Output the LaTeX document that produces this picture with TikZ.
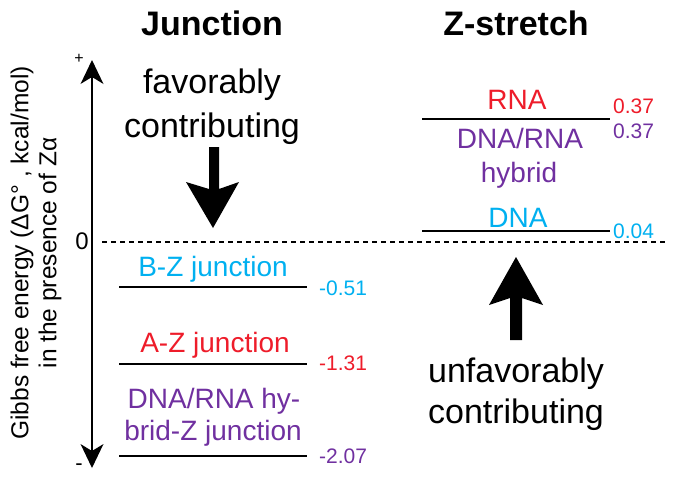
\documentclass[tikz,border=0pt]{standalone}
\usepackage{fontspec}
\setmainfont{Liberation Sans}
\definecolor{zcyan}{HTML}{00B0F0}
\definecolor{zred}{HTML}{EE1C2A}
\definecolor{zpurple}{HTML}{7030A0}
\begin{document}
\begin{tikzpicture}[x=1pt,y=-1pt,
  txt/.style={inner sep=0pt,anchor=base},
  title/.style={txt,font=\fontsize{34}{40}\selectfont\bfseries},
  big/.style={txt,font=\fontsize{34}{40}\selectfont},
  lab/.style={txt,font=\fontsize{28}{32}\selectfont},
  num/.style={txt,anchor=base west,font=\fontsize{21}{24}\selectfont},
  level/.style={line width=2.9pt},
  axislab/.style={inner sep=0pt,font=\fontsize{24.5}{28}\selectfont,rotate=90}]
\useasboundingbox (0,0) rectangle (678,477);
% titles
\node[title] (tj) at (212,35) {Junction};
\node[title] (tz) at (516,35) {Z-stretch};
% axis
\coordinate (atop) at (92,60);
\coordinate (abot) at (92,468);
\draw[line width=2.4pt] (92,76) -- (92,452);
\fill (atop) -- (103.5,84) -- (92,77) -- (80.5,84) -- cycle;
\fill (abot) -- (103.5,444) -- (92,451) -- (80.5,444) -- cycle;
\node[txt,font=\fontsize{16}{18}\selectfont] (plus) at (79,63) {+};
\node[txt,font=\fontsize{22}{24}\selectfont] (minus) at (79,470) {-};
\node[txt,font=\fontsize{24}{28}\selectfont] (zero) at (82,249) {0};
\node[axislab] (yl1) at (22,253) {Gibbs free energy (ΔG° , kcal/mol)};
\node[axislab] (yl2) at (50,253) {in the presence of Zα};
% zero line
\coordinate (d0) at (102,242);
\coordinate (d1) at (666,242);
\draw[line width=1.1pt,dash pattern=on 5pt off 4pt] (d0) -- (d1);
% favorably
\node[big] (fav1) at (212,93) {favorably};
\node[big] (fav2) at (212,137) {contributing};
\fill (209,147) -- (219,147) -- (219,189) -- (239,182) -- (213,228) -- (186,182) -- (209,189) -- cycle;
% unfavorably
\fill (516,257) -- (543,305) -- (522,298) -- (522,340) -- (510,340) -- (510,298) -- (489,305) -- cycle;
\node[big] (unf1) at (516,382) {unfavorably};
\node[big] (unf2) at (516,423) {contributing};
% left levels
\coordinate (b0) at (119,287); \coordinate (b1) at (307,287);
\coordinate (a0) at (119,364); \coordinate (a1) at (307,364);
\coordinate (h0) at (119,456); \coordinate (h1) at (307,456);
\draw[level] (b0) -- (b1);
\draw[level] (a0) -- (a1);
\draw[level] (h0) -- (h1);
\node[lab,text=zcyan] (bz) at (213,276) {B-Z junction};
\node[lab,text=zred] (az) at (215,352) {A-Z junction};
\node[lab,text=zpurple] (hz1) at (214,408) {DNA/RNA hy-};
\node[lab,text=zpurple] (hz2) at (213,440) {brid-Z junction};
\node[num,text=zcyan] (nb) at (319,295) {-0.51};
\node[num,text=zred] (na) at (319,370) {-1.31};
\node[num,text=zpurple] (nh) at (319,463) {-2.07};
% right levels
\coordinate (r0) at (422,119); \coordinate (r1) at (610,119);
\coordinate (s0) at (422,231); \coordinate (s1) at (610,231);
\draw[level] (r0) -- (r1);
\draw[level] (s0) -- (s1);
\node[lab,text=zred] (rna) at (517,109) {RNA};
\node[lab,text=zpurple] (hyb1) at (520,148) {DNA/RNA};
\node[lab,text=zpurple] (hyb2) at (519,182) {hybrid};
\node[lab,text=zcyan] (dna) at (518,227) {DNA};
\node[num,text=zred] (nr) at (613,113) {0.37};
\node[num,text=zpurple] (nhy) at (613,138) {0.37};
\node[num,text=zcyan] (nd) at (613,238) {0.04};
\end{tikzpicture}
\end{document}
